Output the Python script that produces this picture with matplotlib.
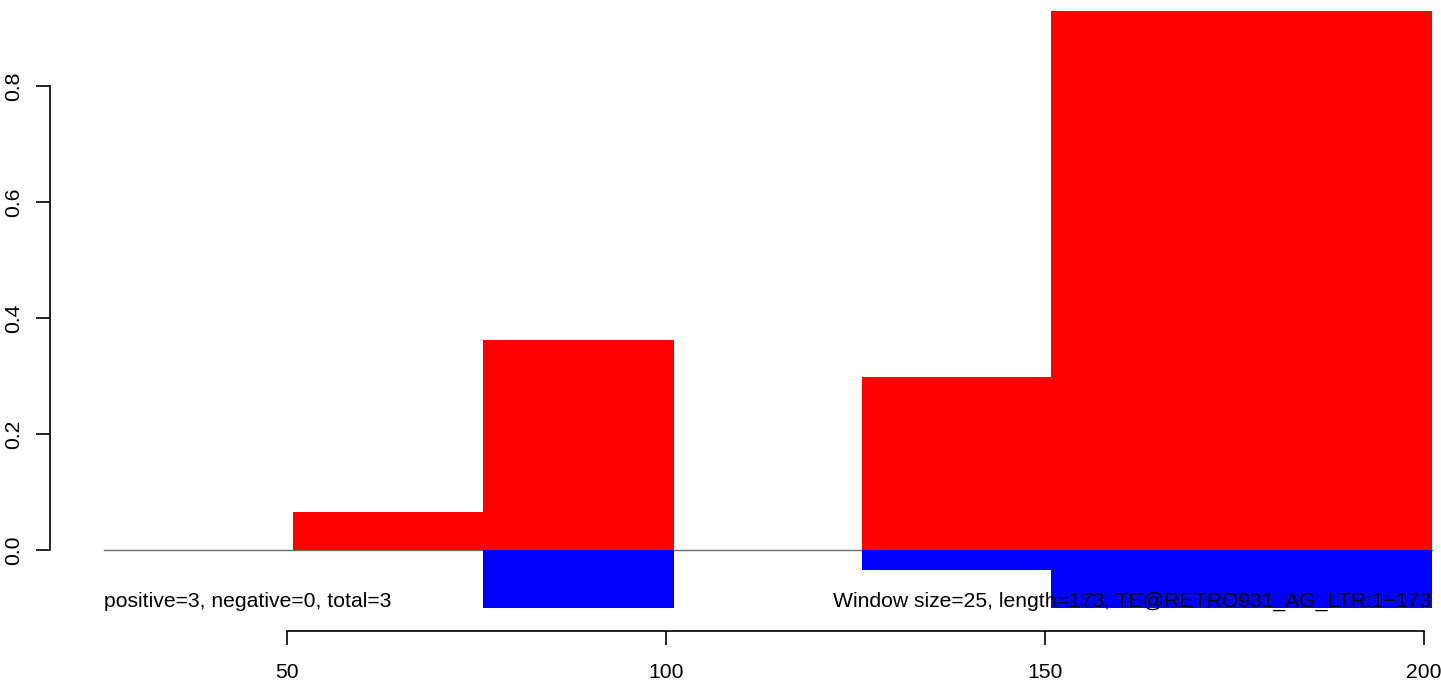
import matplotlib
matplotlib.use("Agg")
import matplotlib.pyplot as plt

# window start positions and scores
win_start = [50.8, 75.8, 125.8, 150.8, 175.8]
pos_vals = [0.065, 0.362, 0.298, 0.929, 0.929]
neg_start = [75.8, 125.8, 150.8, 175.8]
neg_vals = [-0.100, -0.034, -0.100, -0.100]
win_size = 25.2
line_range = [25.8, 201]

xticks = [50, 100, 150, 200]
yticks = [0.0, 0.2, 0.4, 0.6, 0.8]

plt.rcParams['font.family'] = ['Liberation Sans', 'DejaVu Sans']

fig = plt.figure(figsize=(14.41, 6.8), dpi=100)
ax = fig.add_axes([50 / 1441, 49 / 680, 1391 / 1441, 631 / 680])

ax.plot(line_range, [0, 0], color='#6e6e6e', lw=1, zorder=1)
ax.bar(win_start, pos_vals, width=win_size, align='edge', color='#ff0000', lw=0, zorder=2)
ax.bar(neg_start, neg_vals, width=win_size, align='edge', color='#0000ff', lw=0, zorder=2)

ax.text(25.8, -0.088, "positive=3, negative=0, total=3", ha='left', va='center',
        fontsize=15.2, zorder=3)
ax.text(201, -0.088, "Window size=25, length=173, TE@RETRO931_AG_LTR:1\u2212173",
        ha='right', va='center', fontsize=15.2, zorder=3)

ax.set_xlim(18.73, 202.24)
ax.set_ylim(-0.1397, 0.9483)

for s in ['top', 'right']:
    ax.spines[s].set_visible(False)
ax.spines['left'].set_bounds(0, 0.8)
ax.spines['bottom'].set_bounds(50, 200)
ax.spines['left'].set_linewidth(1.2)
ax.spines['bottom'].set_linewidth(1.2)

ax.set_xticks(xticks)
ax.set_xticklabels([str(v) for v in xticks])
ax.set_yticks(yticks)
ax.set_yticklabels([f"{v:.1f}" for v in yticks], rotation=90, va='center')
ax.tick_params(axis='both', length=10, width=1.2, labelsize=15.2)
ax.tick_params(axis='x', pad=13)
ax.tick_params(axis='y', pad=9)

fig.savefig("out.png", dpi=100)
